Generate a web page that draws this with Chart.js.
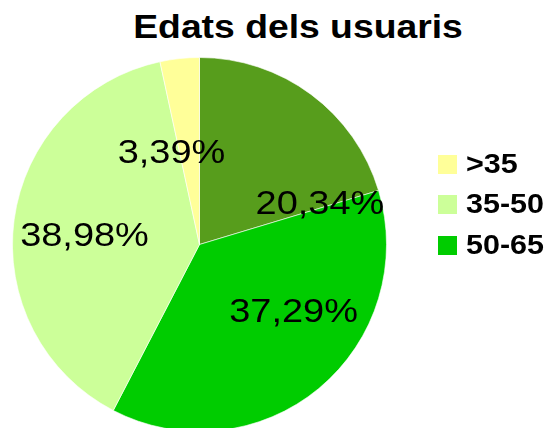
<!DOCTYPE html>
<html lang="ca">
<head>
    <meta charset="UTF-8">
    <title>Edats dels usuaris</title>
    <script src="https://cdn.jsdelivr.net/npm/chart.js"></script>
    <style>
        body {
            margin: 0;
            padding: 0;
            width: 550px;
            height: 428px;
            overflow: hidden;
            background: #fff;
            font-family: 'Liberation Sans', Arial, sans-serif;
            position: relative;
        }
        .title {
            position: absolute;
            left: 0;
            width: 596px;
            top: 8px;
            text-align: center;
            font-size: 33px;
            font-weight: bold;
            color: #000;
            white-space: nowrap;
            transform: scaleX(1.13);
            transform-origin: 298px 0;
        }
        .chart-box {
            position: absolute;
            left: 0;
            top: 0;
            width: 550px;
            height: 480px;
        }
        .legend {
            position: absolute;
            left: 438px;
            top: 144px;
        }
        .legend-item {
            display: flex;
            align-items: center;
            height: 40.5px;
            font-size: 27px;
            font-weight: bold;
            color: #000;
        }
        .legend-item span.box {
            display: inline-block;
            width: 19px;
            height: 19px;
            margin-right: 9px;
        }
        .legend-item span.txt {
            display: inline-block;
            transform: scaleX(1.13);
            transform-origin: 0 50%;
        }
    </style>
</head>
<body>
    <div class="title">Edats dels usuaris</div>
    <div class="chart-box">
        <canvas id="edatsChart"></canvas>
    </div>
    <div class="legend" id="legend"></div>

    <script>
        // dades (nombre d'usuaris per franja)
        const franges = ['>65', '50-65', '35-50', '>35'];
        const usuaris = [12, 22, 23, 2];
        const colors = ['#579d1c', '#00cc00', '#ccff99', '#ffff99'];
        const llegenda = [3, 2, 1]; // franges que surten a la llegenda

        const total = usuaris.reduce((a, b) => a + b, 0);

        // on va cada etiqueta, relatiu al centre i al radi
        const posEtiquetes = [
            [0.644, -0.211],
            [0.503, 0.364],
            [-0.615, -0.040],
            [-0.150, -0.485]
        ];

        const etiquetesPlugin = {
            id: 'etiquetes',
            afterDatasetsDraw(chart) {
                const ctx = chart.ctx;
                const meta = chart.getDatasetMeta(0);
                ctx.save();
                ctx.font = '33px "Liberation Sans", Arial, sans-serif';
                ctx.fillStyle = '#000';
                ctx.textAlign = 'center';
                ctx.textBaseline = 'middle';
                meta.data.forEach((arc, i) => {
                    const r = arc.outerRadius;
                    const x = arc.x + posEtiquetes[i][0] * r;
                    const y = arc.y + posEtiquetes[i][1] * r;
                    const pct = (usuaris[i] / total * 100).toFixed(2).replace('.', ',') + '%';
                    ctx.save();
                    ctx.translate(x, y);
                    ctx.scale(1.15, 1);
                    ctx.fillText(pct, 0, 0);
                    ctx.restore();
                });
                ctx.restore();
            }
        };

        const chart = new Chart(document.getElementById('edatsChart').getContext('2d'), {
            type: 'pie',
            data: {
                labels: franges,
                datasets: [{
                    data: usuaris,
                    backgroundColor: colors,
                    borderColor: 'rgba(255,255,255,0.6)',
                    borderWidth: 1
                }]
            },
            options: {
                responsive: true,
                maintainAspectRatio: false,
                animation: false,
                layout: {
                    padding: { left: 12, top: 57, right: 163, bottom: 48 }
                },
                plugins: {
                    legend: { display: false },
                    tooltip: { enabled: false }
                }
            },
            plugins: [etiquetesPlugin]
        });

        const legendEl = document.getElementById('legend');
        llegenda.forEach(i => {
            const item = document.createElement('div');
            item.className = 'legend-item';
            const box = document.createElement('span');
            box.className = 'box';
            box.style.background = colors[i];
            const txt = document.createElement('span');
            txt.className = 'txt';
            txt.textContent = franges[i];
            item.appendChild(box);
            item.appendChild(txt);
            legendEl.appendChild(item);
        });
    </script>
</body>
</html>
